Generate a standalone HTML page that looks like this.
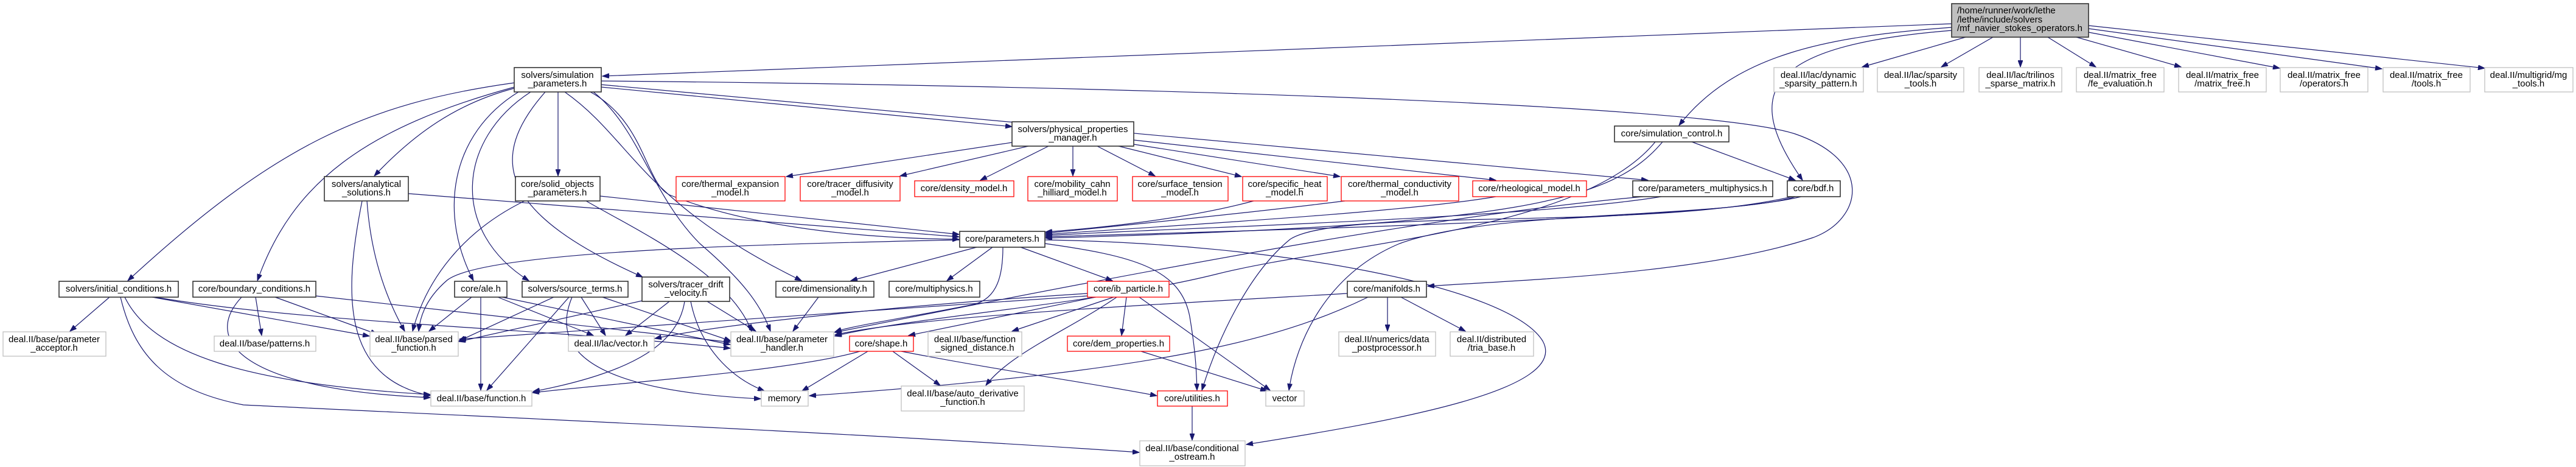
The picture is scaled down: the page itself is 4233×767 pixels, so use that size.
<!DOCTYPE html>
<html><head><meta charset="utf-8"><style>
html,body{margin:0;padding:0;background:#fff;}
svg{display:block;}
text{font-family:"Liberation Sans",sans-serif;font-size:15px;fill:#000;text-anchor:middle;}
.e{fill:none;stroke:#191970;stroke-width:1.2;marker-end:url(#a);}
.b{fill:#fff;stroke:#333;stroke-width:1.6;}
.g{fill:#fff;stroke:#bfbfbf;stroke-width:1.3;}
.r{fill:#fff;stroke:#ff0000;stroke-width:1.3;}
</style></head><body>
<svg width="4233" height="767" viewBox="0 0 4233 767" xmlns="http://www.w3.org/2000/svg">
<defs><marker id="a" markerUnits="userSpaceOnUse" markerWidth="12" markerHeight="8" refX="11" refY="4" orient="auto"><path d="M0,0 L11,4 L0,8 z" fill="#191970" stroke="#191970"/></marker></defs>

<!-- edges from top -->
<path class="e" d="M3207,39 L990,125"/>
<path class="e" d="M3207,45 C3000,60 2850,90 2759,206"/>
<path class="e" d="M3207,50 C2900,75 2860,150 2962,296"/>
<path class="e" d="M3230,61 L3060,110"/>
<path class="e" d="M3275,61 L3190,110"/>
<path class="e" d="M3320,61 L3320,110"/>
<path class="e" d="M3365,61 L3444,110"/>
<path class="e" d="M3412,61 L3584,110"/>
<path class="e" d="M3432,53 L3746,112"/>
<path class="e" d="M3432,47 L3914,113"/>
<path class="e" d="M3432,42 L4083,112"/>

<!-- from simulation_parameters -->
<path class="e" d="M988,143 L1663,208"/>
<path class="e" d="M988,139 L2708,296"/>
<path class="e" d="M988,133 C1800,140 2800,170 2950,220 C3080,265 3060,360 2980,390 C2800,450 2500,460 2346,470"/>
<path class="e" d="M970,151 C1060,200 1060,300 1100,320 C1250,380 1450,392 1576,393"/>
<path class="e" d="M845,145 C750,170 680,220 615,289"/>
<path class="e" d="M845,136 C600,170 450,240 210,461"/>
<path class="e" d="M845,143 C600,210 480,300 423,461"/>
<path class="e" d="M917,151 L917,289"/>
<path class="e" d="M852,151 C740,220 720,350 778,461"/>
<path class="e" d="M872,151 C750,230 740,380 869,461"/>
<path class="e" d="M896,151 C800,260 820,350 1056,455"/>
<path class="e" d="M928,151 C1040,230 1050,330 1317,461"/>
<path class="e" d="M975,151 C1050,210 1070,320 1150,400 C1220,460 1250,500 1266,544"/>

<!-- physical properties -->
<path class="e" d="M1663,234 L1292,290"/>
<path class="e" d="M1690,240 L1479,289"/>
<path class="e" d="M1723,240 L1611,296"/>
<path class="e" d="M1763,240 L1763,289"/>
<path class="e" d="M1803,240 L1898,289"/>
<path class="e" d="M1838,240 L2040,290"/>
<path class="e" d="M1863,237 L2202,290"/>
<path class="e" d="M1863,230 L2458,296"/>

<!-- into parameters -->
<path class="e" d="M671,318 L1576,389"/>
<path class="e" d="M986,322 L1576,385"/>
<path class="e" d="M2060,330 C1950,360 1800,375 1718,381"/>
<path class="e" d="M2210,330 C2050,350 1850,370 1718,383"/>
<path class="e" d="M2458,323 C2300,350 1900,372 1718,385"/>
<path class="e" d="M2730,323 C2500,360 1900,375 1718,387"/>
<path class="e" d="M2950,323 C2850,360 2000,380 1718,389"/>
<path class="e" d="M2732,233 C2650,330 2500,370 1718,391"/>
<path class="e" d="M2780,233 L2950,296"/>

<!-- from bdf / multiphysics / sim control down -->
<path class="e" d="M2960,323 C2800,360 2450,345 2300,400 C2180,450 2130,560 2118,641"/>
<path class="e" d="M2945,323 C2700,380 2200,340 2120,393 C2050,450 2000,560 1975,641"/>
<path class="e" d="M2700,323 C2400,350 2000,420 1372,546"/>
<path class="e" d="M2720,233 C2600,380 2200,400 2000,450 C1800,500 1500,520 1372,552"/>

<!-- from parameters -->
<path class="e" d="M1577,394 C1300,400 800,410 735,460 C700,490 690,520 688,544"/>
<path class="e" d="M1605,406 L1398,461"/>
<path class="e" d="M1631,406 L1556,461"/>
<path class="e" d="M1677,406 L1828,461"/>
<path class="e" d="M1717,400 C1860,420 1940,440 1955,520 C1965,580 1966,610 1967,641"/>
<path class="e" d="M1717,394 C2100,400 2480,470 2535,560 C2580,640 2300,690 2048,730"/>
<path class="e" d="M1648,406 C1648,450 1640,490 1600,500 C1500,520 1400,535 1372,545"/>

<!-- manifolds -->
<path class="e" d="M2248,488 C2100,560 1900,610 1330,650"/>
<path class="e" d="M2280,488 L2280,544"/>
<path class="e" d="M2302,488 L2408,544"/>
<path class="e" d="M2214,482 C1900,500 1500,520 1372,550"/>

<!-- ib_particle -->
<path class="e" d="M1800,488 L1493,551"/>
<path class="e" d="M1830,488 L1663,544"/>
<path class="e" d="M1851,488 L1843,551"/>
<path class="e" d="M1872,488 L2087,641"/>
<path class="e" d="M1835,488 C1760,540 1660,580 1620,633"/>
<path class="e" d="M1787,482 C1500,500 1200,530 1076,556"/>
<path class="e" d="M1787,486 C1500,505 1000,540 755,557"/>

<!-- shape / dem / utilities -->
<path class="e" d="M1426,577 L1318,642"/>
<path class="e" d="M1467,577 L1545,633"/>
<path class="e" d="M1481,577 C1650,610 1800,630 1901,650"/>
<path class="e" d="M1413,577 C1300,610 1000,630 875,645"/>
<path class="e" d="M1875,577 L2082,642"/>
<path class="e" d="M1959,667 L1959,723"/>
<path class="e" d="M1345,488 L1303,544"/>

<!-- tracer drift -->
<path class="e" d="M1162,495 L1242,544"/>
<path class="e" d="M1135,495 C1150,570 1200,620 1256,642"/>
<path class="e" d="M1125,495 C1115,560 1050,610 876,643"/>
<path class="e" d="M1100,495 L1028,551"/>
<path class="e" d="M1055,494 L754,561"/>

<!-- source terms -->
<path class="e" d="M910,488 L754,560"/>
<path class="e" d="M935,488 L800,641"/>
<path class="e" d="M955,488 L995,551"/>
<path class="e" d="M990,488 L1201,560"/>
<path class="e" d="M940,488 C910,560 940,640 1250,655"/>

<!-- ale -->
<path class="e" d="M775,488 L705,544"/>
<path class="e" d="M790,488 L790,641"/>
<path class="e" d="M818,488 L975,551"/>
<path class="e" d="M825,488 L1200,566"/>

<!-- initial conditions -->
<path class="e" d="M180,488 L115,544"/>
<path class="e" d="M250,488 L607,552"/>
<path class="e" d="M255,488 C500,530 900,540 1200,572"/>
<path class="e" d="M205,488 C250,580 400,630 707,648"/>
<path class="e" d="M198,488 C220,580 270,640 400,665 C700,680 1400,710 1872,743"/>

<!-- boundary conditions -->
<path class="e" d="M420,488 L430,551"/>
<path class="e" d="M452,488 L620,549"/>
<path class="e" d="M397,488 C330,560 400,640 707,653"/>
<path class="e" d="M519,486 L1200,562"/>

<!-- analytical / solid objects -->
<path class="e" d="M603,330 C610,430 640,500 665,544"/>
<path class="e" d="M595,330 C565,480 560,620 707,650"/>
<path class="e" d="M862,330 C760,380 700,460 678,544"/>
<path class="e" d="M963,330 C1050,380 1200,450 1235,544"/>

<!-- nodes -->
<rect x="3207" y="6" width="225" height="55" fill="#bfbfbf" stroke="#333" stroke-width="1.6"/>
<text x="3216" y="22" style="text-anchor:start">/home/runner/work/lethe</text>
<text x="3216" y="37" style="text-anchor:start">/lethe/include/solvers</text>
<text x="3216" y="51" style="text-anchor:start">/mf_navier_stokes_operators.h</text>

<rect class="g" x="2915" y="111" width="147" height="40"/><text x="2988" y="128">deal.II/lac/dynamic</text><text x="2988" y="142">_sparsity_pattern.h</text>
<rect class="g" x="3085" y="111" width="142" height="40"/><text x="3156" y="128">deal.II/lac/sparsity</text><text x="3156" y="142">_tools.h</text>
<rect class="g" x="3252" y="111" width="136" height="40"/><text x="3320" y="128">deal.II/lac/trilinos</text><text x="3320" y="142">_sparse_matrix.h</text>
<rect class="g" x="3412" y="111" width="144" height="40"/><text x="3484" y="128">deal.II/matrix_free</text><text x="3484" y="142">/fe_evaluation.h</text>
<rect class="g" x="3580" y="111" width="144" height="40"/><text x="3652" y="128">deal.II/matrix_free</text><text x="3652" y="142">/matrix_free.h</text>
<rect class="g" x="3747" y="111" width="144" height="40"/><text x="3819" y="128">deal.II/matrix_free</text><text x="3819" y="142">/operators.h</text>
<rect class="g" x="3916" y="111" width="143" height="40"/><text x="3987" y="128">deal.II/matrix_free</text><text x="3987" y="142">/tools.h</text>
<rect class="g" x="4083" y="111" width="145" height="40"/><text x="4155" y="128">deal.II/multigrid/mg</text><text x="4155" y="142">_tools.h</text>

<rect class="b" x="845" y="111" width="143" height="40"/><text x="916" y="128">solvers/simulation</text><text x="916" y="142">_parameters.h</text>
<rect class="b" x="1663" y="200" width="200" height="40"/><text x="1763" y="217">solvers/physical_properties</text><text x="1763" y="231">_manager.h</text>
<rect class="b" x="2653" y="207" width="188" height="26"/><text x="2747" y="224">core/simulation_control.h</text>

<rect class="b" x="533" y="290" width="138" height="40"/><text x="602" y="307">solvers/analytical</text><text x="602" y="321">_solutions.h</text>
<rect class="b" x="847" y="290" width="139" height="40"/><text x="916" y="307">core/solid_objects</text><text x="916" y="321">_parameters.h</text>
<rect class="r" x="1111" y="290" width="179" height="40"/><text x="1200" y="307">core/thermal_expansion</text><text x="1200" y="321">_model.h</text>
<rect class="r" x="1315" y="290" width="164" height="40"/><text x="1397" y="307">core/tracer_diffusivity</text><text x="1397" y="321">_model.h</text>
<rect class="r" x="1503" y="297" width="163" height="26"/><text x="1584" y="314">core/density_model.h</text>
<rect class="r" x="1689" y="290" width="147" height="40"/><text x="1762" y="307">core/mobility_cahn</text><text x="1762" y="321">_hilliard_model.h</text>
<rect class="r" x="1861" y="290" width="157" height="40"/><text x="1939" y="307">core/surface_tension</text><text x="1939" y="321">_model.h</text>
<rect class="r" x="2042" y="290" width="139" height="40"/><text x="2111" y="307">core/specific_heat</text><text x="2111" y="321">_model.h</text>
<rect class="r" x="2204" y="290" width="193" height="40"/><text x="2300" y="307">core/thermal_conductivity</text><text x="2300" y="321">_model.h</text>
<rect class="r" x="2420" y="297" width="187" height="26"/><text x="2513" y="314">core/rheological_model.h</text>
<rect class="b" x="2683" y="297" width="230" height="26"/><text x="2798" y="314">core/parameters_multiphysics.h</text>
<rect class="b" x="2937" y="297" width="87" height="26"/><text x="2980" y="314">core/bdf.h</text>

<rect class="b" x="1577" y="380" width="140" height="26"/><text x="1647" y="397">core/parameters.h</text>

<rect class="b" x="97" y="462" width="196" height="26"/><text x="195" y="479">solvers/initial_conditions.h</text>
<rect class="b" x="317" y="462" width="202" height="26"/><text x="418" y="479">core/boundary_conditions.h</text>
<rect class="b" x="747" y="462" width="86" height="26"/><text x="790" y="479">core/ale.h</text>
<rect class="b" x="858" y="462" width="174" height="26"/><text x="945" y="479">solvers/source_terms.h</text>
<rect class="b" x="1055" y="455" width="144" height="40"/><text x="1127" y="472">solvers/tracer_drift</text><text x="1127" y="486">_velocity.h</text>
<rect class="b" x="1275" y="462" width="161" height="26"/><text x="1355" y="479">core/dimensionality.h</text>
<rect class="b" x="1461" y="462" width="149" height="26"/><text x="1535" y="479">core/multiphysics.h</text>
<rect class="r" x="1787" y="462" width="134" height="26"/><text x="1854" y="479">core/ib_particle.h</text>
<rect class="b" x="2214" y="462" width="130" height="26"/><text x="2279" y="479">core/manifolds.h</text>

<rect class="g" x="5" y="545" width="169" height="40"/><text x="89" y="562">deal.II/base/parameter</text><text x="89" y="576">_acceptor.h</text>
<rect class="g" x="352" y="552" width="167" height="25"/><text x="435" y="569">deal.II/base/patterns.h</text>
<rect class="g" x="608" y="545" width="145" height="40"/><text x="680" y="562">deal.II/base/parsed</text><text x="680" y="576">_function.h</text>
<rect class="g" x="934" y="552" width="141" height="25"/><text x="1004" y="569">deal.II/lac/vector.h</text>
<rect class="g" x="1201" y="545" width="169" height="40"/><text x="1285" y="562">deal.II/base/parameter</text><text x="1285" y="576">_handler.h</text>
<rect class="r" x="1396" y="552" width="105" height="25"/><text x="1448" y="569">core/shape.h</text>
<rect class="g" x="1525" y="545" width="154" height="40"/><text x="1602" y="562">deal.II/base/function</text><text x="1602" y="576">_signed_distance.h</text>
<rect class="r" x="1754" y="552" width="168" height="25"/><text x="1838" y="569">core/dem_properties.h</text>
<rect class="g" x="2200" y="545" width="159" height="40"/><text x="2279" y="562">deal.II/numerics/data</text><text x="2279" y="576">_postprocessor.h</text>
<rect class="g" x="2383" y="545" width="137" height="40"/><text x="2451" y="562">deal.II/distributed</text><text x="2451" y="576">/tria_base.h</text>

<rect class="g" x="708" y="642" width="166" height="25"/><text x="791" y="659">deal.II/base/function.h</text>
<rect class="g" x="1251" y="642" width="77" height="25"/><text x="1289" y="659">memory</text>
<rect class="g" x="1481" y="634" width="202" height="41"/><text x="1582" y="651">deal.II/base/auto_derivative</text><text x="1582" y="665">_function.h</text>
<rect class="r" x="1902" y="642" width="115" height="25"/><text x="1959" y="659">core/utilities.h</text>
<rect class="g" x="2080" y="642" width="63" height="25"/><text x="2111" y="659">vector</text>
<rect class="g" x="1873" y="724" width="173" height="41"/><text x="1959" y="741">deal.II/base/conditional</text><text x="1959" y="755">_ostream.h</text>
</svg>
</body></html>
